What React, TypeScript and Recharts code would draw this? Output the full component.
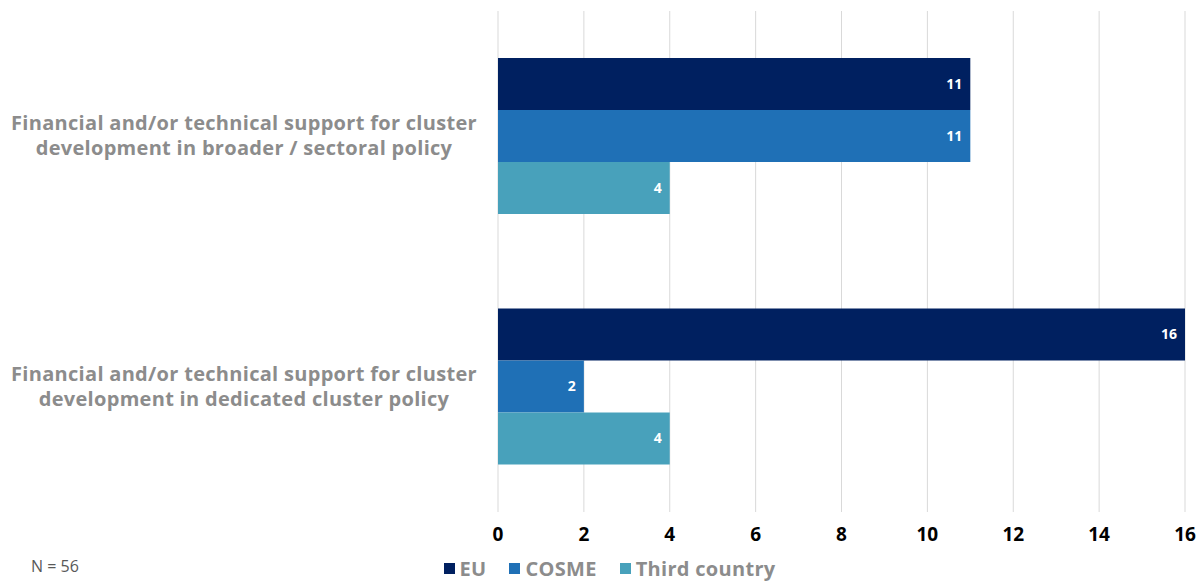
import { Bar, BarChart, CartesianGrid, LabelList, Legend, XAxis, YAxis } from "recharts";

const categories = [
  ["Financial and/or technical support for cluster", "development in broader / sectoral policy"],
  ["Financial and/or technical support for cluster", "development in dedicated cluster policy"],
];
const eu = [11, 16];
const cosme = [11, 2];
const thirdCountry = [4, 4];
const xTicks = [0, 2, 4, 6, 8, 10, 12, 14, 16];

const series = [
  { key: "eu", name: "EU", color: "#002060" },
  { key: "cosme", name: "COSME", color: "#1f70b6" },
  { key: "third", name: "Third country", color: "#48a1bb" },
];

const data = categories.map((lines, i) => ({
  name: lines.join(" "),
  eu: eu[i],
  cosme: cosme[i],
  third: thirdCountry[i],
}));

const FONT = "'Open Sans', sans-serif";

function CategoryTick(props: any) {
  const { y, payload } = props;
  const lines = categories.find((l) => l.join(" ") === payload.value) || [payload.value];
  return (
    <text x={244} y={y} textAnchor="middle" fill="#8c8c8c" fontFamily={FONT} fontWeight={700} fontSize={20} letterSpacing={0.3}>
      {lines.map((l, i) => (
        <tspan key={i} x={244} dy={i === 0 ? -6 : 25}>{l}</tspan>
      ))}
    </text>
  );
}

function LegendContent() {
  return (
    <div style={{ height: 28, paddingLeft: 16, display: "flex", justifyContent: "center", alignItems: "center", gap: 23, fontFamily: FONT, fontWeight: 700, fontSize: 20, letterSpacing: 0.3, color: "#8c8c8c" }}>
      {series.map((s) => (
        <span key={s.key} style={{ display: "flex", alignItems: "center", gap: 5 }}>
          <span style={{ width: 11, height: 11, background: s.color, display: "inline-block" }} />
          {s.name}
        </span>
      ))}
    </div>
  );
}

export default function App() {
  return (
    <div style={{ position: "absolute", left: 0, top: 0, width: 1203, height: 582, background: "#fff", overflow: "hidden" }}>
      <BarChart
        width={1203}
        height={582}
        data={data}
        layout="vertical"
        margin={{ top: 11, right: 18, left: 0, bottom: 0 }}
        barGap={0}
        barCategoryGap={47}
      >
        <CartesianGrid horizontal={false} stroke="#d9d9d9" />
        <XAxis
          type="number"
          domain={[0, 16]}
          ticks={xTicks}
          axisLine={false}
          tickLine={false}
          height={42}
          tick={{ fill: "#000", fontFamily: FONT, fontWeight: 700, fontSize: 19 }}
          dy={8}
        />
        <YAxis type="category" dataKey="name" width={498} axisLine={false} tickLine={false} tick={<CategoryTick />} />
        <Legend verticalAlign="bottom" content={<LegendContent />} wrapperStyle={{ top: 554, left: 0, width: 1203 }} />
        {series.map((s) => (
          <Bar key={s.key} dataKey={s.key} name={s.name} fill={s.color} isAnimationActive={false}>
            <LabelList dataKey={s.key} position="insideRight" offset={8} fill="#fff" fontFamily={FONT} fontWeight={700} fontSize={14} />
          </Bar>
        ))}
      </BarChart>
      <div style={{ position: "absolute", left: 31, top: 555, fontFamily: FONT, fontSize: 16, color: "#595959" }}>N = 56</div>
    </div>
  );
}
